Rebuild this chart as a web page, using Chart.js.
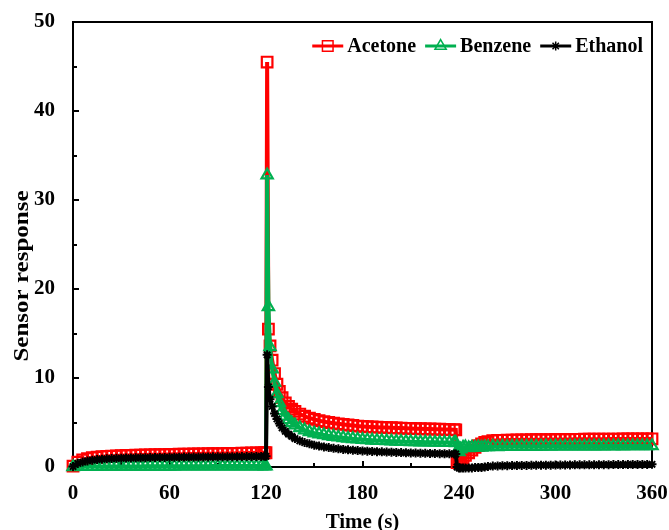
<!DOCTYPE html>
<html>
<head>
<meta charset="utf-8">
<script src="https://cdn.jsdelivr.net/npm/chart.js@4.4.1/dist/chart.umd.min.js"></script>
<style>
  html, body { margin: 0; padding: 0; background: #fff; }
  canvas { display: block; }
</style>
</head>
<body>
<canvas id="chart" width="669" height="530"></canvas>
<script>
// time (s) shared by all three series
const times = [
  0,3,6,9,12,15,18,21,24,27,30,33,36,39,42,45,48,51,54,57,60,63,66,69,72,75,78,81,84,87,90,93,96,99,102,105,108,111,114,117,119,
  120,120.7,121.5,122.5,123.8,125.3,126.8,128.3,
  130,132,134,136,138,141,144,147,150,153,156,159,162,165,168,171,174,177,180,183,186,189,192,195,198,201,204,207,210,213,216,219,222,225,228,231,234,237,238,
  238.8,240,241,242.5,244,246,248,250,252,254,256,258,261,
  264,267,270,273,276,279,282,285,288,291,294,297,300,303,306,309,312,315,318,321,324,327,330,333,336,339,342,345,348,351,354,357,360
];
const acetone = [
  0.1,0.55,0.8,0.95,1.05,1.1,1.15,1.2,1.22,1.25,1.28,1.3,1.31,1.33,1.34,1.36,1.37,1.38,1.38,1.4,1.41,1.42,1.43,1.44,1.45,1.46,1.47,1.48,1.49,1.5,1.5,1.51,1.52,1.53,1.54,1.55,1.56,1.57,1.58,1.59,1.6,
  1.6,45.5,15.5,13.6,12.0,10.5,9.3,8.5,
  7.8,7.2,6.8,6.5,6.25,5.95,5.7,5.5,5.35,5.2,5.1,5.0,4.92,4.85,4.78,4.72,4.66,4.6,4.56,4.52,4.5,4.47,4.45,4.43,4.41,4.39,4.37,4.35,4.33,4.31,4.3,4.28,4.27,4.25,4.24,4.22,4.2,4.19,4.18,
  0.5,0.6,0.8,1.0,1.3,1.6,1.9,2.2,2.4,2.6,2.75,2.85,2.95,
  3.0,3.0,3.02,3.03,3.04,3.05,3.05,3.06,3.07,3.07,3.08,3.08,3.09,3.1,3.1,3.1,3.11,3.11,3.12,3.12,3.12,3.13,3.13,3.14,3.14,3.14,3.15,3.15,3.15,3.16,3.16,3.16,3.17
];
const benzene = [
  0,0.03,0.04,0.05,0.05,0.05,0.06,0.06,0.06,0.06,0.07,0.07,0.07,0.07,0.07,0.08,0.08,0.08,0.08,0.08,0.08,0.08,0.09,0.09,0.09,0.09,0.09,0.09,0.09,0.1,0.1,0.1,0.1,0.1,0.1,0.1,0.1,0.1,0.1,0.1,0.1,
  0.1,32.8,18.0,13.5,11.0,9.5,8.2,7.2,
  6.3,5.7,5.3,4.95,4.7,4.4,4.15,3.95,3.8,3.7,3.6,3.5,3.42,3.35,3.28,3.22,3.17,3.12,3.08,3.04,3.0,2.97,2.95,2.92,2.9,2.88,2.86,2.85,2.83,2.82,2.8,2.79,2.78,2.77,2.76,2.75,2.74,2.73,2.72,
  1.8,1.7,2.0,2.2,2.25,2.15,2.2,2.2,2.25,2.2,2.25,2.25,2.3,
  2.25,2.3,2.28,2.3,2.3,2.32,2.3,2.32,2.3,2.32,2.33,2.32,2.33,2.34,2.33,2.34,2.34,2.35,2.34,2.35,2.35,2.34,2.35,2.36,2.35,2.36,2.35,2.36,2.36,2.37,2.36,2.37,2.37
];
const ethanol = [
  0.05,0.4,0.55,0.68,0.77,0.83,0.88,0.92,0.95,0.97,0.99,1.01,1.02,1.03,1.04,1.05,1.06,1.07,1.08,1.08,1.09,1.1,1.1,1.11,1.11,1.12,1.12,1.13,1.13,1.14,1.14,1.15,1.15,1.16,1.16,1.17,1.17,1.18,1.18,1.19,1.2,
  1.2,12.6,9.0,7.6,6.8,6.0,5.4,4.9,
  4.4,4.0,3.7,3.45,3.2,2.95,2.75,2.6,2.45,2.35,2.25,2.18,2.1,2.04,1.98,1.93,1.89,1.85,1.81,1.78,1.75,1.72,1.7,1.68,1.66,1.64,1.62,1.6,1.58,1.57,1.55,1.54,1.52,1.51,1.5,1.49,1.48,1.47,1.46,
  0.0,-0.1,-0.1,-0.1,-0.1,-0.1,-0.1,-0.05,-0.05,-0.05,0.0,0.05,0.1,
  0.12,0.14,0.15,0.16,0.17,0.18,0.18,0.19,0.2,0.2,0.21,0.21,0.22,0.22,0.23,0.23,0.24,0.24,0.25,0.25,0.25,0.26,0.26,0.26,0.27,0.27,0.27,0.28,0.28,0.28,0.29,0.29,0.3
];

const seriesNames = ['Acetone', 'Benzene', 'Ethanol'];
const xTicks = [0, 60, 120, 180, 240, 300, 360];
const yTicks = [0, 10, 20, 30, 40, 50];
const xMinorStep = 30;
const yMinorStep = 5;
const xTitle = 'Time (s)';
const yTitle = 'Sensor response';

const FONT = '"Liberation Serif", "Times New Roman", serif';

if (acetone.length !== times.length || benzene.length !== times.length || ethanol.length !== times.length) {
  console.warn('length mismatch', times.length, acetone.length, benzene.length, ethanol.length);
}

function pts(vals) {
  return times.map((t, i) => ({ x: t, y: vals[i] }));
}

function marker(ctx, ds, x, y) {
  ctx.save();
  ctx.strokeStyle = ds.pointBorderColor;
  ctx.fillStyle = 'rgba(0,0,0,0)';
  ctx.lineWidth = 1.5;
  Chart.helpers.drawPoint(ctx, {
    pointStyle: ds.pointStyle, radius: ds.pointRadius, rotation: 0, borderWidth: 1.5
  }, x, y);
  ctx.restore();
}

// keep the plot box where the reference has it: no extra room for tick label overhang
function noPad(s) {
  s.paddingTop = 0; s.paddingBottom = 0; s.paddingLeft = 0; s.paddingRight = 0;
}

const framePlugin = {
  id: 'frame',
  beforeDatasetsDraw(chart) {
    const { ctx, chartArea: a, scales: { x, y } } = chart;
    ctx.save();
    ctx.strokeStyle = '#000';
    ctx.lineWidth = 2;
    ctx.strokeRect(a.left, a.top, a.right - a.left, a.bottom - a.top);
    ctx.beginPath();
    for (let v = xMinorStep; v < x.max; v += xMinorStep) {
      const px = Math.round(x.getPixelForValue(v));
      const len = v % 60 === 0 ? 6 : 4;
      ctx.moveTo(px, a.bottom);
      ctx.lineTo(px, a.bottom - len);
    }
    for (let v = yMinorStep; v < y.max; v += yMinorStep) {
      const py = Math.round(y.getPixelForValue(v));
      const len = v % 10 === 0 ? 6 : 4;
      ctx.moveTo(a.left, py);
      ctx.lineTo(a.left + len, py);
    }
    ctx.stroke();
    ctx.restore();
  },
  afterDraw(chart) {
    const { ctx, chartArea: a } = chart;
    ctx.save();
    ctx.fillStyle = '#000';
    // axis titles
    ctx.font = 'bold 21px ' + FONT;
    ctx.textAlign = 'center';
    ctx.textBaseline = 'alphabetic';
    ctx.fillText(xTitle, (a.left + a.right) / 2, 528);
    ctx.save();
    ctx.translate(28, 276);
    ctx.rotate(-Math.PI / 2);
    ctx.scale(1.25, 1);
    ctx.font = 'bold 20px ' + FONT;
    ctx.fillText(yTitle, 0, 0);
    ctx.restore();

    // legend, top right inside the plot
    ctx.font = 'bold 20px ' + FONT;
    const lineLen = 31, gap = 4, itemGap = 9;
    const dsets = seriesNames.map(n => chart.data.datasets.find(d => d.label === n));
    const widths = dsets.map(d => lineLen + gap + ctx.measureText(d.label).width);
    const total = widths.reduce((s, w) => s + w, 0) + itemGap * (dsets.length - 1);
    let lx = a.right - 9 - total;
    const ly = a.top + 24;
    ctx.textAlign = 'left';
    ctx.textBaseline = 'middle';
    dsets.forEach((d, i) => {
      ctx.strokeStyle = d.borderColor;
      ctx.lineWidth = 3;
      ctx.beginPath();
      ctx.moveTo(lx, ly);
      ctx.lineTo(lx + lineLen, ly);
      ctx.stroke();
      marker(ctx, d, lx + lineLen / 2, ly);
      ctx.fillStyle = '#000';
      ctx.fillText(d.label, lx + lineLen + gap, ly + 1);
      lx += widths[i] + itemGap;
    });
    ctx.restore();
  }
};

const tickFont = { family: FONT, size: 21, weight: 'bold' };

new Chart(document.getElementById('chart'), {
  type: 'scatter',
  data: {
    datasets: [
      {
        label: seriesNames[0], data: pts(acetone), showLine: true, clip: false, order: 3,
        borderColor: '#ff0000', borderWidth: 4,
        pointStyle: 'rect', pointRadius: 7.5, pointBorderWidth: 2.2,
        pointBorderColor: '#ff0000', pointBackgroundColor: 'rgba(0,0,0,0)'
      },
      {
        label: seriesNames[1], data: pts(benzene), showLine: true, clip: false, order: 2,
        borderColor: '#00b050', borderWidth: 4,
        pointStyle: 'triangle', pointRadius: 6.5, pointBorderWidth: 2.2,
        pointBorderColor: '#00b050', pointBackgroundColor: 'rgba(0,0,0,0)'
      },
      {
        label: seriesNames[2], data: pts(ethanol), showLine: true, clip: false, order: 1,
        borderColor: '#000000', borderWidth: 4,
        pointStyle: 'star', pointRadius: 4.5, pointBorderWidth: 2,
        pointBorderColor: '#000000', pointBackgroundColor: 'rgba(0,0,0,0)'
      }
    ]
  },
  options: {
    responsive: false,
    animation: false,
    devicePixelRatio: 1,
    layout: { padding: { top: 22, right: 17, left: 0, bottom: 0 } },
    plugins: { legend: { display: false }, tooltip: { enabled: false } },
    scales: {
      x: {
        type: 'linear', min: 0, max: 360,
        afterBuildTicks: s => { s.ticks = xTicks.map(v => ({ value: v })); },
        afterFit: s => { s.height = 63; noPad(s); },
        grid: { display: false, drawTicks: false },
        border: { display: false },
        ticks: { padding: 14, color: '#000', font: tickFont, maxRotation: 0, autoSkip: false }
      },
      y: {
        type: 'linear', min: 0, max: 50,
        afterBuildTicks: s => { s.ticks = yTicks.map(v => ({ value: v })); },
        afterFit: s => { s.width = 73; noPad(s); },
        grid: { display: false, drawTicks: false },
        border: { display: false },
        ticks: { padding: 18, color: '#000', font: tickFont }
      }
    }
  },
  plugins: [framePlugin]
});
</script>
</body>
</html>
